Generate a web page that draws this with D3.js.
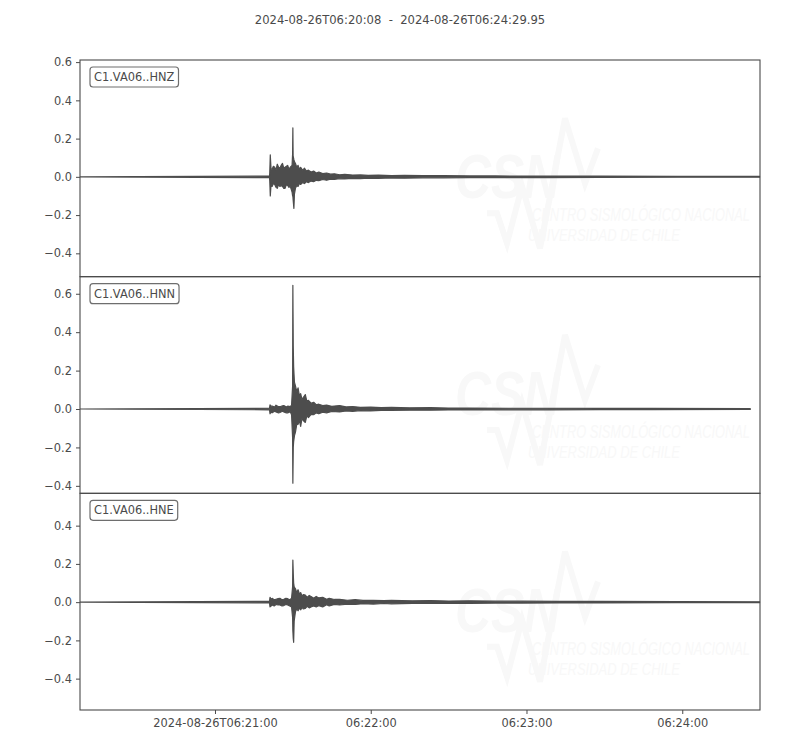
<!DOCTYPE html>
<html><head><meta charset="utf-8">
<script src="https://cdn.jsdelivr.net/npm/d3@7"></script>
<style>body{margin:0;background:#fff}svg{display:block}</style>
</head><body>
<svg id="c" width="800" height="750"></svg>
<script>
const titleText = "2024-08-26T06:20:08  -  2024-08-26T06:24:29.95";
const startTime = "2024-08-26T06:20:08Z";
const endTime = "2024-08-26T06:24:29.95Z";
const channels = ["C1.VA06..HNZ", "C1.VA06..HNN", "C1.VA06..HNE"];
const yDomains = [[-0.522, 0.611], [-0.439, 0.689], [-0.564, 0.569]];
// envelope of each trace: seconds after start, max, min
const hnzT   = [0, 73.0, 73.1, 73.3, 73.6, 74, 74.5, 75, 75.5, 76, 76.5, 77, 77.5, 78, 78.5, 79, 79.5, 80, 80.5, 81, 81.7, 81.9, 82.0, 82.1, 82.4, 82.6, 83, 83.5, 84, 84.5, 85, 85.7, 86.5, 87.2, 88, 89, 90, 91, 92, 93.5, 95, 96.5, 98, 100, 102, 105, 108, 111, 115, 120, 125, 132, 140, 150, 160, 170, 180, 200, 230, 262];
const hnzMax = [0, 0.004, 0.02, 0.115, 0.04, 0.04, 0.055, 0.05, 0.035, 0.066, 0.05, 0.045, 0.06, 0.07, 0.045, 0.05, 0.055, 0.06, 0.04, 0.05, 0.06, 0.12, 0.256, 0.11, 0.09, 0.08, 0.07, 0.05, 0.06, 0.04, 0.05, 0.035, 0.045, 0.03, 0.035, 0.025, 0.03, 0.02, 0.025, 0.017, 0.02, 0.014, 0.016, 0.011, 0.013, 0.009, 0.01, 0.008, 0.009, 0.007, 0.008, 0.006, 0.006, 0.005, 0.005, 0.004, 0.004, 0.004, 0.002, 0.002];
const hnzMin = [0, -0.004, -0.02, -0.10, -0.04, -0.05, -0.035, -0.04, -0.055, -0.06, -0.04, -0.05, -0.045, -0.05, -0.06, -0.06, -0.04, -0.045, -0.055, -0.05, -0.08, -0.10, -0.10, -0.12, -0.165, -0.09, -0.06, -0.045, -0.05, -0.035, -0.04, -0.03, -0.035, -0.025, -0.03, -0.022, -0.025, -0.018, -0.02, -0.014, -0.018, -0.012, -0.013, -0.01, -0.011, -0.008, -0.009, -0.007, -0.008, -0.006, -0.007, -0.005, -0.005, -0.004, -0.004, -0.004, -0.004, -0.003, -0.002, -0.002];
const hnnT   = [0, 73.0, 73.2, 73.6, 74, 75, 75.5, 76.5, 77, 78, 78.5, 79.5, 80, 81, 81.5, 81.9, 82.0, 82.15, 82.3, 82.6, 83, 83.5, 84, 84.5, 85, 85.5, 86, 86.8, 87.4, 88, 89, 90, 91, 92, 93.5, 95, 97, 100, 102.5, 105, 108, 112, 116, 120, 127, 135, 142, 150, 165, 180, 200, 220, 258.2];
const hnnMax = [0, 0.004, 0.022, 0.015, 0.015, 0.01, 0.02, 0.012, 0.012, 0.016, 0.018, 0.01, 0.015, 0.012, 0.02, 0.12, 0.644, 0.325, 0.22, 0.14, 0.12, 0.09, 0.11, 0.07, 0.08, 0.05, 0.06, 0.075, 0.04, 0.045, 0.03, 0.035, 0.022, 0.025, 0.018, 0.02, 0.014, 0.018, 0.011, 0.013, 0.009, 0.01, 0.007, 0.008, 0.006, 0.007, 0.005, 0.005, 0.004, 0.004, 0.003, 0.003, 0.002];
const hnnMin = [0, -0.004, -0.025, -0.015, -0.02, -0.012, -0.015, -0.02, -0.018, -0.012, -0.015, -0.02, -0.02, -0.014, -0.03, -0.15, -0.386, -0.2, -0.17, -0.14, -0.12, -0.08, -0.08, -0.06, -0.09, -0.05, -0.06, -0.07, -0.035, -0.045, -0.028, -0.03, -0.02, -0.025, -0.017, -0.02, -0.013, -0.015, -0.01, -0.012, -0.008, -0.01, -0.007, -0.007, -0.006, -0.006, -0.005, -0.005, -0.004, -0.004, -0.003, -0.003, -0.002];
const hneT   = [0, 73.0, 73.2, 73.6, 74, 74.8, 75.5, 76.3, 77, 77.8, 78.5, 79.3, 80, 80.8, 81.5, 81.9, 82.0, 82.15, 82.3, 82.5, 83, 83.5, 84, 84.6, 85, 85.6, 86, 86.8, 87.5, 88.3, 89, 90, 91, 92, 93.5, 95, 96, 98, 100, 103, 106, 109, 113, 117, 120, 128, 135, 142, 150, 160, 170, 185, 200, 230, 262];
const hneMax = [0, 0.004, 0.025, 0.015, 0.02, 0.012, 0.015, 0.018, 0.02, 0.012, 0.015, 0.02, 0.018, 0.012, 0.02, 0.08, 0.22, 0.15, 0.1, 0.08, 0.07, 0.05, 0.065, 0.04, 0.05, 0.03, 0.04, 0.037, 0.025, 0.035, 0.03, 0.02, 0.03, 0.022, 0.025, 0.015, 0.02, 0.014, 0.015, 0.01, 0.013, 0.009, 0.01, 0.008, 0.009, 0.007, 0.008, 0.006, 0.007, 0.005, 0.005, 0.004, 0.004, 0.003, 0.002];
const hneMin = [0, -0.004, -0.025, -0.02, -0.015, -0.02, -0.012, -0.015, -0.015, -0.02, -0.018, -0.012, -0.015, -0.02, -0.025, -0.08, -0.15, -0.19, -0.21, -0.1, -0.05, -0.035, -0.045, -0.03, -0.04, -0.028, -0.035, -0.033, -0.022, -0.03, -0.025, -0.02, -0.025, -0.018, -0.025, -0.014, -0.02, -0.012, -0.015, -0.01, -0.012, -0.008, -0.01, -0.007, -0.009, -0.006, -0.007, -0.006, -0.006, -0.005, -0.005, -0.004, -0.004, -0.003, -0.002];

const traces = [
  {t: hnzT, hi: hnzMax, lo: hnzMin},
  {t: hnnT, hi: hnnMax, lo: hnnMin},
  {t: hneT, hi: hneMax, lo: hneMin}
];

const svg = d3.select("#c");
const font = "DejaVu Sans, sans-serif";
const fs = 11.4;
const txtCol = "#4a4a4a";
const axCol = "#4a4a4a";
const traceCol = "#4d4d4d";
const left = 80, right = 760, top0 = 60, bottom = 710;
const nP = 3, ph = (bottom - top0) / nP;

const t0 = new Date(startTime), t1 = new Date(endTime);
const x = d3.scaleUtc().domain([t0, t1]).range([left, right]);

svg.append("text").attr("x", 400).attr("y", 24).attr("text-anchor", "middle")
  .style("white-space", "pre").attr("xml:space", "preserve")
  .attr("font-family", font).attr("font-size", 11.6).attr("fill", txtCol).text(titleText);

traces.forEach((tr, i) => {
  const pt = top0 + i * ph;
  const y = d3.scaleLinear().domain(yDomains[i]).range([pt + ph, pt]);
  const g = svg.append("g");
  const clipId = "clip" + i;
  svg.append("clipPath").attr("id", clipId).append("rect")
    .attr("x", left).attr("y", pt).attr("width", right - left).attr("height", ph);

  // watermark
  const wm = g.append("g").attr("fill", "#f8f8f8")
    .attr("font-family", "Liberation Sans, Arial, sans-serif");
  const wy = pt + ph * 0.5;
  wm.append("path").attr("fill", "none").attr("stroke", "#f8f8f8").attr("stroke-width", 6)
    .attr("d", `M487,${wy+45} L497,${wy+45} L507,${wy+75} L522,${wy+18} L540,${wy+80} L565,${wy-50} L585,${wy+15} L598,${wy-20}`);
  wm.append("text").attr("x", 455).attr("y", wy + 30).attr("font-size", 50)
    .attr("font-weight", "bold").attr("font-style", "italic")
    .attr("textLength", 105).attr("lengthAdjust", "spacingAndGlyphs")
    .attr("transform", `translate(0,${wy + 30}) scale(1,1.25) translate(0,${-(wy + 30)})`).text("CSN");
  wm.append("text").attr("x", 532).attr("y", wy + 53).attr("font-size", 12.5)
    .attr("font-style", "italic").attr("textLength", 218).attr("lengthAdjust", "spacingAndGlyphs")
    .attr("transform", `translate(0,${wy + 53}) scale(1,1.4) translate(0,${-(wy + 53)})`)
    .text("CENTRO SISMOLÓGICO NACIONAL");
  wm.append("text").attr("x", 528).attr("y", wy + 73).attr("font-size", 12)
    .attr("font-style", "italic").attr("textLength", 152).attr("lengthAdjust", "spacingAndGlyphs")
    .attr("transform", `translate(0,${wy + 73}) scale(1,1.4) translate(0,${-(wy + 73)})`)
    .text("UNIVERSIDAD DE CHILE");

  const tt = tr.t.map(s => new Date(t0.getTime() + s * 1000));
  const idx = d3.range(tt.length);
  const area = d3.area()
    .x(j => x(tt[j])).y0(j => y(tr.lo[j])).y1(j => y(tr.hi[j]));
  g.append("path").attr("clip-path", `url(#${clipId})`)
    .attr("d", area(idx)).attr("fill", traceCol).attr("stroke", traceCol)
    .attr("stroke-width", 1.2).attr("stroke-linejoin", "round");
  const lastT = tt[tt.length - 1];
  if (i !== 1) {
    g.append("line").attr("x1", x(lastT)).attr("x2", right)
      .attr("y1", y(0)).attr("y2", y(0)).attr("stroke", traceCol).attr("stroke-width", 1.2);
  }

  // frame
  g.append("rect").attr("x", left).attr("y", pt).attr("width", right - left).attr("height", ph)
    .attr("fill", "none").attr("stroke", axCol).attr("stroke-width", 1.1);

  // y axis
  const ya = d3.axisLeft(y).ticks(6).tickFormat(d3.format(".1f")).tickSize(4).tickSizeOuter(0).tickPadding(4);
  const yg = g.append("g").attr("transform", `translate(${left},0)`).call(ya);
  yg.select(".domain").remove();
  yg.selectAll("line").attr("stroke", axCol);
  yg.selectAll("text").attr("font-family", font).attr("font-size", fs).attr("fill", txtCol);

  // label box
  const lbl = g.append("g");
  const lt = lbl.append("text").attr("x", 94).attr("y", pt + 21).attr("font-family", font)
    .attr("font-size", fs).attr("fill", txtCol).text(channels[i]);
  const bb = lt.node().getBBox();
  lbl.insert("rect", "text").attr("x", bb.x - 4).attr("y", pt + 7).attr("width", bb.width + 8)
    .attr("height", 20).attr("rx", 3).attr("fill", "#fff").attr("stroke", "#6e6e6e").attr("stroke-width", 1.2);

  if (i === nP - 1) {
    const first = d3.utcFormat("%Y-%m-%dT%H:%M:%S"), rest = d3.utcFormat("%H:%M:%S");
    const xa = d3.axisBottom(x).ticks(d3.utcMinute.every(1))
      .tickFormat((d, k) => k === 0 ? first(d) : rest(d)).tickSize(4).tickSizeOuter(0).tickPadding(5);
    const xg = g.append("g").attr("transform", `translate(0,${pt + ph})`).call(xa);
    xg.select(".domain").remove();
    xg.selectAll("line").attr("stroke", axCol);
    xg.selectAll("text").attr("font-family", font).attr("font-size", fs).attr("fill", txtCol);
  }
});
</script>
</body></html>
